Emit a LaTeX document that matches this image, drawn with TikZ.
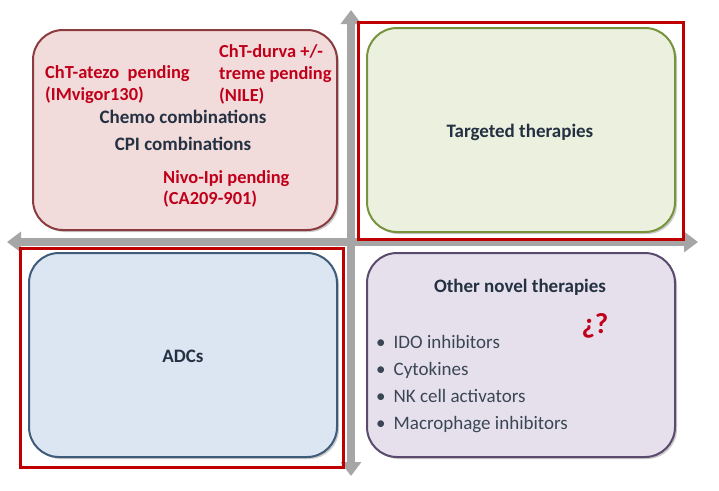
\documentclass[tikz,border=0pt]{standalone}
\usepackage{fontspec}
\setmainfont{Carlito}
\usetikzlibrary{arrows.meta,shadows}
\definecolor{axisgray}{HTML}{A6A6A6}
\definecolor{hlred}{HTML}{C00000}
\definecolor{txtred}{HTML}{C0001A}
\definecolor{navy}{HTML}{243142}
\definecolor{pinkfill}{HTML}{F2DCDB}
\definecolor{pinkline}{HTML}{8C3B3F}
\definecolor{greenfill}{HTML}{EBF1DE}
\definecolor{greenline}{HTML}{77933C}
\definecolor{bluefill}{HTML}{DCE6F2}
\definecolor{blueline}{HTML}{3F5B7A}
\definecolor{purplefill}{HTML}{E6E0EC}
\definecolor{purpleline}{HTML}{5A4A6E}
\tikzset{
  quad/.style={draw, line width=2pt, rounded corners=30pt,
    drop shadow={shadow xshift=2pt, shadow yshift=-2pt, opacity=0.35, fill=black!60}},
  axisline/.style={draw=axisgray, line width=8pt,
    {Triangle[width=20pt,length=14pt]}-{Triangle[width=20pt,length=14pt]}},
  hlbox/.style={draw=hlred, line width=3pt},
  redtxt/.style={text=txtred, font=\bfseries\fontsize{18.4}{22}\selectfont, anchor=base west, inner sep=0pt},
  navytxt/.style={text=navy, font=\bfseries\fontsize{19}{22}\selectfont, anchor=base, inner sep=0pt},
  bullettxt/.style={text=navy!90, font=\fontsize{19}{22}\selectfont, anchor=base west, inner sep=0pt},
}
\begin{document}
\begin{tikzpicture}[x=1pt,y=-1pt]
\useasboundingbox (0,0) rectangle (719,490);
% axes
\coordinate (vtop) at (351,10);
\coordinate (vbot) at (351,476);
\coordinate (hleft) at (7,242);
\coordinate (hright) at (698,242);
\draw[axisline] (vbot) -- (vtop);
\draw[axisline] (hleft) -- (hright);
% highlight rectangles
\draw[hlbox] (358,22) rectangle (683,239);
\draw[hlbox] (20,248) rectangle (343,467);
% quadrant boxes
\path[quad, fill=pinkfill, draw=pinkline] (33,30) rectangle (337,230);
\path[quad, fill=greenfill, draw=greenline] (367,28) rectangle (675,232);
\path[quad, fill=bluefill, draw=blueline] (29,253) rectangle (337,457);
\path[quad, fill=purplefill, draw=purpleline] (367,253) rectangle (675,457);
% top-left texts
\node[redtxt] (atezo1) at (45,78) {ChT-atezo\ \ pending};
\node[redtxt] (atezo2) at (45,100) {(IMvigor130)};
\node[redtxt] (durva1) at (219,57) {ChT-durva +/-};
\node[redtxt] (durva2) at (219,79) {treme pending};
\node[redtxt] (durva3) at (219,101) {(NILE)};
\node[navytxt] (chemo) at (183,123) {Chemo combinations};
\node[navytxt] (cpi) at (183,150) {CPI combinations};
\node[redtxt] (nivo1) at (163,183) {Nivo-Ipi pending};
\node[redtxt] (nivo2) at (163,204) {(CA209-901)};
% other quadrants
\node[navytxt] (targeted) at (520,137) {Targeted therapies};
\node[navytxt] (adcs) at (183,362) {ADCs};
\node[navytxt] (other) at (520,292) {Other novel therapies};
\node[text=txtred, font=\bfseries\fontsize{29}{32}\selectfont, anchor=base, inner sep=0pt] (q) at (595,333) {¿?};
\node[bullettxt] (b1) at (376,348) {\textbullet\hspace{8pt}IDO inhibitors};
\node[bullettxt] (b2) at (376,375) {\textbullet\hspace{8pt}Cytokines};
\node[bullettxt] (b3) at (376,402) {\textbullet\hspace{8pt}NK cell activators};
\node[bullettxt] (b4) at (376,429) {\textbullet\hspace{8pt}Macrophage inhibitors};
\end{tikzpicture}
\end{document}
